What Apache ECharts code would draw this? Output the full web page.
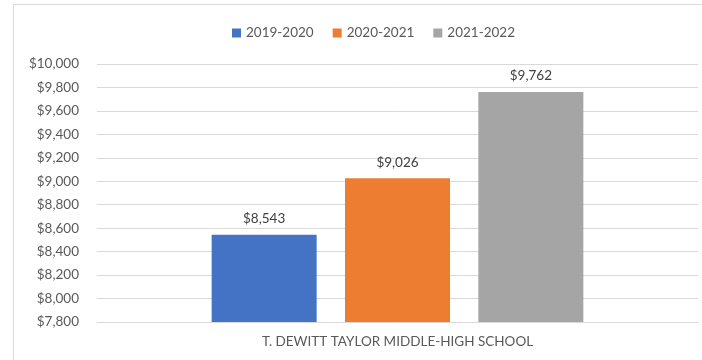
<!DOCTYPE html>
<html>
<head>
<meta charset="utf-8">
<script src="https://cdn.jsdelivr.net/npm/echarts@6/dist/echarts.min.js"></script>
<style>
  html, body { margin: 0; padding: 0; background: #fff; }
  #chart { width: 702px; height: 360px; }
</style>
</head>
<body>
<div id="chart"></div>
<script>
var categories = ['T. DEWITT TAYLOR MIDDLE-HIGH SCHOOL'];
var seriesNames = ['2019-2020', '2020-2021', '2021-2022'];
var values2019 = [8543];
var values2020 = [9026];
var values2021 = [9762];
var colors = ['#4472c4', '#ed7d31', '#a5a5a5'];

function money(v) {
    return '$' + String(v).replace(/\B(?=(\d{3})+(?!\d))/g, ',');
}

var myChart = echarts.init(document.getElementById('chart'));
var font = 'Lato, "Open Sans", sans-serif';

function bar(name, data, color) {
    return {
        name: name,
        type: 'bar',
        data: data,
        barWidth: 105,
        barGap: '27%',
        itemStyle: { color: color },
        label: {
            show: true,
            position: 'top',
            distance: 9,
            color: '#404040',
            fontSize: 13.5,
            fontFamily: font,
            formatter: function (p) { return money(p.value); }
        }
    };
}

var option = {
    animation: false,
    textStyle: { fontFamily: font },
    graphic: [{
        type: 'rect',
        shape: { x: 13.5, y: 4.5, width: 800, height: 500 },
        style: { fill: 'none', stroke: '#d9d9d9', lineWidth: 1 },
        silent: true
    }],
    legend: {
        top: 21,
        left: 227,
        itemWidth: 9,
        itemHeight: 9,
        itemGap: 19,
        icon: 'rect',
        textStyle: { color: '#595959', fontSize: 13.5, fontFamily: font },
        data: seriesNames
    },
    grid: { left: 97, right: 4, top: 64, bottom: 38 },
    xAxis: {
        type: 'category',
        data: categories,
        axisTick: { show: false },
        axisLine: { lineStyle: { color: '#d9d9d9' } },
        axisLabel: { color: '#595959', fontSize: 13.5, margin: 13, fontFamily: font }
    },
    yAxis: {
        type: 'value',
        min: 7800,
        max: 10000,
        interval: 200,
        axisLine: { show: false },
        axisTick: { show: false },
        splitLine: { lineStyle: { color: '#d9d9d9' } },
        axisLabel: {
            color: '#595959', fontSize: 13.5, margin: 18, fontFamily: font,
            formatter: function (v) { return money(v); }
        }
    },
    series: [
        bar(seriesNames[0], values2019, colors[0]),
        bar(seriesNames[1], values2020, colors[1]),
        bar(seriesNames[2], values2021, colors[2])
    ]
};
myChart.setOption(option);
</script>
</body>
</html>
